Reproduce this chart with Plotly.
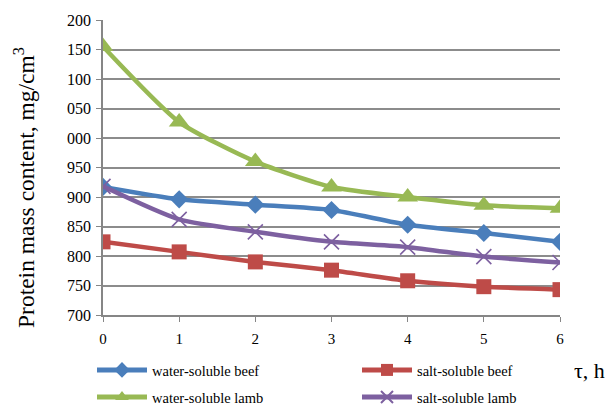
import plotly.graph_objects as go

# Storage time, hours
hours = [0, 1, 2, 3, 4, 5, 6]

# Protein mass content, mg/cm3
water_beef = [917, 896, 887, 878, 853, 839, 824]
salt_beef = [824, 807, 790, 776, 758, 748, 743]
water_lamb = [1155, 1027, 960, 917, 900, 886, 881]
salt_lamb = [918, 862, 841, 824, 815, 799, 789]

y_ticks = [700, 750, 800, 850, 900, 950, 1000, 1050, 1100, 1150, 1200]
y_tick_labels = ["700", "750", "800", "850", "900", "950", "000", "050", "100", "150", "200"]

# (name, values, colour, marker, legend)
series = [
    ("water-soluble beef", water_beef, "#4A7EBB", dict(symbol="diamond", size=14), "legend"),
    ("salt-soluble beef", salt_beef, "#BE4B48", dict(symbol="square", size=15), "legend2"),
    ("water-soluble lamb", water_lamb, "#98B954", dict(symbol="triangle-up", size=18), "legend3"),
    ("salt-soluble lamb", salt_lamb, "#7D60A0",
     dict(symbol="x-thin", size=15, line=dict(width=1.6, color="#7D60A0")), "legend4"),
]

fig = go.Figure()
for name, vals, color, marker, leg in series:
    fig.add_trace(go.Scatter(
        x=hours, y=vals, name=name, mode="lines+markers", legend=leg,
        line=dict(color=color, width=4.5, shape="spline", smoothing=0.6),
        marker=dict(color=color, **marker),
    ))

serif = "Times New Roman"
W, H = 608, 406
L, R, T, B = 103, 48, 20, 91
pw, ph = W - L - R, H - T - B

legend_common = dict(
    orientation="h", xref="container", yref="container",
    xanchor="left", yanchor="middle",
    font=dict(family=serif, size=14.5, color="black"),
    itemwidth=50, itemsizing="constant", bgcolor="rgba(0,0,0,0)",
)

fig.update_layout(
    width=W, height=H,
    margin=dict(l=L, r=R, t=T, b=B, autoexpand=False),
    paper_bgcolor="white", plot_bgcolor="white",
    font=dict(family=serif, color="black", size=14),
    showlegend=True,
    legend=dict(x=92 / W, y=1 - 370 / H, **legend_common),
    legend2=dict(x=357 / W, y=1 - 370 / H, **legend_common),
    legend3=dict(x=92 / W, y=1 - 397 / H, **legend_common),
    legend4=dict(x=357 / W, y=1 - 397 / H, **legend_common),
    xaxis=dict(
        range=[0, 6], tickvals=hours, showgrid=False, zeroline=False,
        showline=True, linecolor="#868686", linewidth=1.5,
        ticks="outside", ticklen=5, tickcolor="#868686",
        ticklabelstandoff=4,
        tickfont=dict(family=serif, size=15, color="black"),
    ),
    yaxis=dict(
        range=[700, 1200], tickvals=y_ticks, ticktext=y_tick_labels,
        showgrid=True, gridcolor="#8C8C8C", gridwidth=1.5, zeroline=False,
        showline=True, linecolor="#868686", linewidth=1.5,
        ticks="outside", ticklen=5, tickcolor="#868686",
        ticklabelstandoff=2,
        tickfont=dict(family=serif, size=16, color="black"),
    ),
)

# Vertical axis title
fig.add_annotation(
    text="Protein mass content, mg/cm<sup>3</sup>", textangle=-90,
    xref="paper", yref="paper", x=(24 - L) / pw, y=(H - B - 188) / ph,
    xanchor="center", yanchor="middle", showarrow=False,
    font=dict(family=serif, size=23.5, color="black"),
)

# Horizontal axis title
fig.add_annotation(
    text="τ, h", xref="paper", yref="paper", x=(607 - L) / pw, y=-(370 - (H - B)) / ph,
    xanchor="right", yanchor="middle", showarrow=False,
    font=dict(family=serif, size=22, color="black"),
)

fig.write_html("out.html")
